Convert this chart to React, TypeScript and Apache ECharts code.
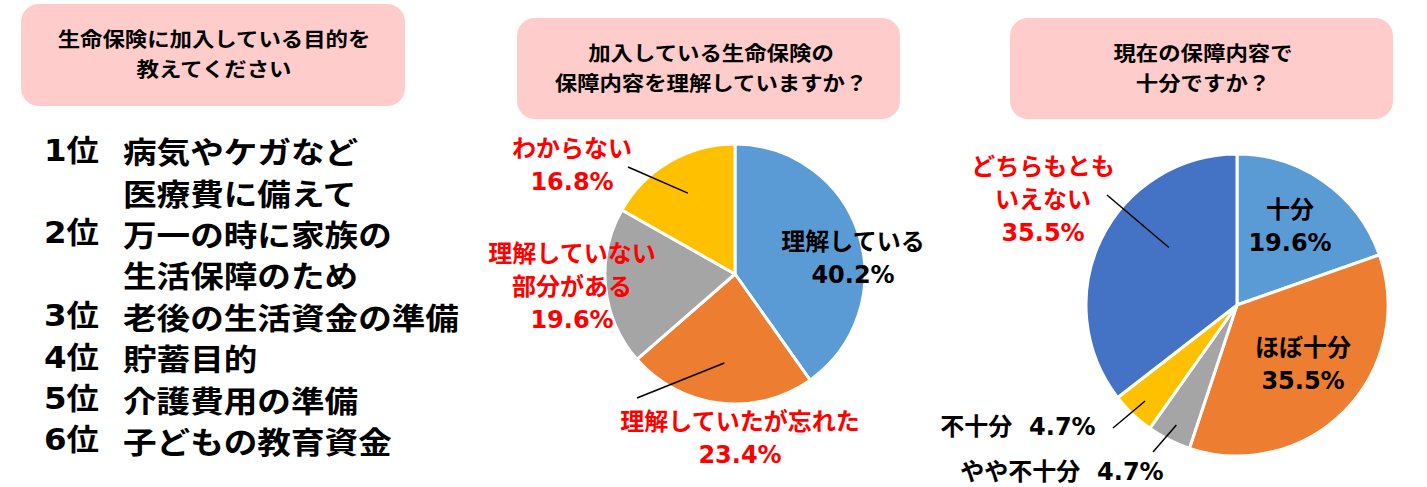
import React, { useEffect, useRef } from "react";
import * as echarts from "echarts";

// ---------- data ----------
const titles = [
  "生命保険に加入している目的を\n教えてください",
  "加入している生命保険の\n保障内容を理解していますか？",
  "現在の保障内容で\n十分ですか？",
];
const rankLabels = ["1位", "2位", "3位", "4位", "5位", "6位"];
const rankItems = [
  "病気やケガなど\n医療費に備えて",
  "万一の時に家族の\n生活保障のため",
  "老後の生活資金の準備",
  "貯蓄目的",
  "介護費用の準備",
  "子どもの教育資金",
];

const understandNames = ["理解している", "理解していたが忘れた", "理解していない\n部分がある", "わからない"];
const understandValues = [40.2, 23.4, 19.6, 16.8];

const sufficiencyNames = ["十分", "ほぼ十分", "やや不十分", "不十分", "どちらもとも\nいえない"];
const sufficiencyValues = [19.6, 35.5, 4.7, 4.7, 35.5];

// ---------- styles / layout ----------
const understandColors = ["#5B9BD5", "#ED7D31", "#A5A5A5", "#FFC000"];
const understandLabelColors = ["#000000", "#FF0000", "#FF0000", "#FF0000"];
const understandInline = [false, false, false, false];

const sufficiencyColors = ["#5B9BD5", "#ED7D31", "#A5A5A5", "#FFC000", "#4472C4"];
const sufficiencyLabelColors = ["#000000", "#000000", "#000000", "#000000", "#FF0000"];
const sufficiencyInline = [false, false, true, true, false];

type Pie = { cx: number; cy: number; r: number };
const PIE1: Pie = { cx: 735, cy: 274, r: 130 };
const PIE2: Pie = { cx: 1237, cy: 305, r: 151 };

const understandLabelPos = [[853, 258], [740, 438], [572, 287], [572, 165]];
const sufficiencyLabelPos = [[1290, 226], [1303, 364], [1062, 472], [1018, 427], [1043, 200]];

type Leader = { from: number[]; r: number; t: number } | null;
const understandLeaders: Leader[] = [null, { from: [637, 398], r: 0.69, t: 0.5 }, null, { from: [628, 167], r: 0.72, t: 0.5 }];
const sufficiencyLeaders: Leader[] = [
  null,
  null,
  { from: [1153, 452], r: 0.89, t: 0.5 },
  { from: [1113, 428], r: 0.88, t: 0.5 },
  { from: [1107, 195], r: 0.59, t: 0.61 },
];

const boxes = [
  { x: 21, y: 4, w: 384, h: 102, tx: 214, ty: 53 },
  { x: 517, y: 18, w: 383, h: 101, tx: 711, ty: 67 },
  { x: 1010, y: 18, w: 383, h: 101, tx: 1203, ty: 67 },
];

const CJK = '"Noto Sans CJK JP"';
const MIXED = '"DejaVu Sans", "Noto Sans CJK JP"';

function slicePoint(values: number[], idx: number, t: number, rf: number, pie: Pie) {
  const total = values.reduce((a, b) => a + b, 0);
  let before = 0;
  for (let i = 0; i < idx; i++) before += values[i];
  const ang = ((before + t * values[idx]) / total) * Math.PI * 2;
  const d = rf * pie.r;
  return [pie.cx + d * Math.sin(ang), pie.cy - d * Math.cos(ang)];
}

function leaderLines(values: number[], leaders: Leader[], pie: Pie) {
  const out: any[] = [];
  leaders.forEach((ld, i) => {
    if (!ld) return;
    const end = slicePoint(values, i, ld.t, ld.r, pie);
    out.push({
      type: "line",
      z: 100,
      silent: true,
      shape: { x1: ld.from[0], y1: ld.from[1], x2: end[0], y2: end[1] },
      style: { stroke: "#000000", lineWidth: 1.5 },
    });
  });
  return out;
}

function buildSeries(
  names: string[],
  values: number[],
  colors: string[],
  labelColors: string[],
  inline: boolean[],
  pos: number[][],
  pie: Pie
) {
  return {
    type: "pie",
    center: [pie.cx, pie.cy],
    radius: pie.r,
    startAngle: 90,
    clockwise: true,
    avoidLabelOverlap: false,
    silent: true,
    itemStyle: { borderColor: "#ffffff", borderWidth: 3 },
    label: {
      show: true,
      position: "inside",
      fontSize: 24,
      fontWeight: "bold",
      fontFamily: MIXED,
      lineHeight: 33,
      align: "center",
    },
    labelLine: { show: false },
    data: names.map((n, i) => ({
      name: n,
      value: values[i],
      itemStyle: { color: colors[i] },
      label: {
        color: labelColors[i],
        formatter: inline[i] ? `${n}  ${values[i].toFixed(1)}%` : `${n}\n${values[i].toFixed(1)}%`,
      },
    })),
    labelLayout: (p: any) => {
      const i = p.dataIndex;
      return { x: pos[i][0], y: pos[i][1], align: "center", verticalAlign: "middle" };
    },
  };
}

export default function App() {
  const ref = useRef<HTMLDivElement>(null);

  useEffect(() => {
    if (!ref.current) return;
    const chart = echarts.init(ref.current, null, { renderer: "svg" });

    const graphics: any[] = [];
    boxes.forEach((b, i) => {
      graphics.push({
        type: "rect",
        shape: { x: b.x, y: b.y, width: b.w, height: b.h, r: 18 },
        style: { fill: "#FFCCCC" },
        silent: true,
      });
      graphics.push({
        type: "text",
        x: b.tx,
        y: b.ty,
        scaleX: 1.12,
        style: {
          text: titles[i],
          font: `bold 20px ${CJK}`,
          fill: "#000000",
          align: "center",
          verticalAlign: "middle",
          textAlign: "center",
          textVerticalAlign: "middle",
          lineHeight: 30,
        },
        silent: true,
      });
    });

    let line = 0;
    const y0 = 150;
    const step = 41.4;
    rankItems.forEach((item, i) => {
      const lines = item.split("\n");
      graphics.push({
        type: "text",
        x: 44,
        y: y0 + line * step,
        scaleX: 1.08,
        style: {
          text: rankLabels[i],
          font: `bold 30px ${MIXED}`,
          fill: "#000000",
          align: "left",
          verticalAlign: "middle",
          textAlign: "left",
          textVerticalAlign: "middle",
        },
        silent: true,
      });
      lines.forEach((ln) => {
        graphics.push({
          type: "text",
          x: 123,
          y: y0 + line * step,
          scaleX: 1.12,
          style: {
            text: ln,
            font: `bold 30px ${CJK}`,
            fill: "#000000",
            align: "left",
            verticalAlign: "middle",
            textAlign: "left",
            textVerticalAlign: "middle",
          },
          silent: true,
        });
        line++;
      });
    });

    graphics.push(...leaderLines(understandValues, understandLeaders, PIE1));
    graphics.push(...leaderLines(sufficiencyValues, sufficiencyLeaders, PIE2));

    chart.setOption({
      animation: false,
      backgroundColor: "#ffffff",
      graphic: { elements: graphics },
      series: [
        buildSeries(
          understandNames,
          understandValues,
          understandColors,
          understandLabelColors,
          understandInline,
          understandLabelPos,
          PIE1
        ),
        buildSeries(
          sufficiencyNames,
          sufficiencyValues,
          sufficiencyColors,
          sufficiencyLabelColors,
          sufficiencyInline,
          sufficiencyLabelPos,
          PIE2
        ),
      ],
    });

    return () => chart.dispose();
  }, []);

  return <div ref={ref} style={{ position: "absolute", left: 0, top: 0, width: 1427, height: 487 }} />;
}
